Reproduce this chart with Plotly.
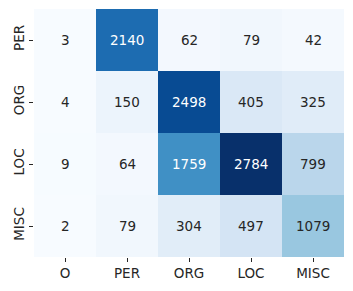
import plotly.graph_objects as go
import numpy as np

rows = ["PER", "ORG", "LOC", "MISC"]
cols = ["O", "PER", "ORG", "LOC", "MISC"]
values = [
    [3, 2140, 62, 79, 42],
    [4, 150, 2498, 405, 325],
    [9, 64, 1759, 2784, 799],
    [2, 79, 304, 497, 1079],
]

blues = [(247,251,255),(222,235,247),(198,219,239),(158,202,225),(107,174,214),
         (66,146,198),(33,113,181),(8,81,156),(8,48,107)]
cscale = [[i/8, "rgb(%d,%d,%d)" % c] for i, c in enumerate(blues)]

z = np.array(values, dtype=float)
zmin, zmax = z.min(), z.max()

def color_at(v):
    t = (v - zmin) / (zmax - zmin) * 8
    i = min(int(np.floor(t)), 7)
    f = t - i
    a, b = np.array(blues[i]), np.array(blues[i+1])
    return (a + (b - a) * f) / 255.0

def lum(c):
    c = np.where(c <= 0.03928, c / 12.92, ((c + 0.055) / 1.055) ** 2.4)
    return 0.2126 * c[0] + 0.7152 * c[1] + 0.0722 * c[2]

fig = go.Figure(go.Heatmap(
    z=values, x=cols, y=rows, colorscale=cscale, showscale=False,
    zmin=zmin, zmax=zmax, xgap=0, ygap=0, hoverinfo="skip",
))

for r, rn in enumerate(rows):
    for c, cn in enumerate(cols):
        v = values[r][c]
        col = "white" if lum(color_at(v)) < 0.408 else "#262626"
        fig.add_annotation(x=cn, y=rn, text=str(v), showarrow=False,
                           font=dict(family="DejaVu Sans", size=13.5, color=col))

fig.update_layout(
    width=345, height=283,
    margin=dict(l=26, r=9, t=1, b=34),
    plot_bgcolor="white", paper_bgcolor="white",
    font=dict(family="DejaVu Sans", size=13.5, color="#262626"),
)
fig.update_xaxes(ticks="outside", ticklen=4, tickwidth=1, tickcolor="#262626",
                 showgrid=False, zeroline=False, showline=False, automargin=False,
                 ticklabelstandoff=0)
fig.update_yaxes(autorange="reversed", ticks="outside", ticklen=4, tickwidth=1,
                 tickcolor="#262626", tickangle=-90, showgrid=False,
                 zeroline=False, showline=False, automargin=False,
                 ticklabelstandoff=0)

fig.write_html("out.html")
